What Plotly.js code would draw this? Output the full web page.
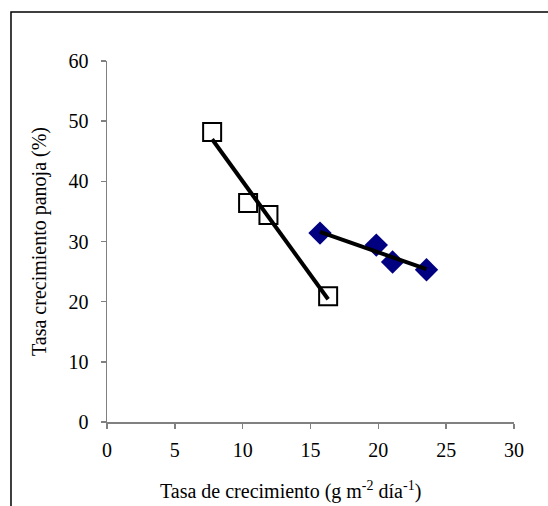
<!DOCTYPE html>
<html>
<head>
<meta charset="utf-8">
<script src="https://cdn.plot.ly/plotly-3.0.1.min.js"></script>
<style>html,body{margin:0;padding:0;background:#fff;}#chart{width:548px;height:506px;}</style>
</head>
<body>
<div id="chart"></div>
<script>
// Open squares series
const squareX = [7.75, 10.4, 11.9, 16.3];
const squareY = [48.2, 36.4, 34.4, 20.9];
// Filled diamonds series
const diamondX = [15.7, 19.85, 21.05, 23.55];
const diamondY = [31.4, 29.4, 26.6, 25.3];
// Trend lines (end points)
const squareFitX = [7.75, 16.3];
const squareFitY = [47.0, 20.4];
const diamondFitX = [15.7, 23.55];
const diamondFitY = [31.6, 25.4];
// Axis ticks
const xTicks = [0, 5, 10, 15, 20, 25, 30];
const yTicks = [0, 10, 20, 30, 40, 50, 60];

const traces = [
  {x: squareX, y: squareY, mode: 'markers', type: 'scatter',
   marker: {symbol: 'square-open', size: 18, color: '#000', line: {width: 2, color: '#000'}}},
  {x: diamondX, y: diamondY, mode: 'markers', type: 'scatter',
   marker: {symbol: 'diamond', size: 18, color: '#000080', line: {width: 0}}},
  {x: squareFitX, y: squareFitY, mode: 'lines', type: 'scatter',
   line: {color: '#000', width: 4}},
  {x: diamondFitX, y: diamondFitY, mode: 'lines', type: 'scatter',
   line: {color: '#000', width: 4}}
];

const FAM = 'Liberation Serif, Times New Roman, serif';

const layout = {
  width: 548, height: 506,
  margin: {l: 107, r: 34, t: 61, b: 84},
  paper_bgcolor: '#fff', plot_bgcolor: '#fff',
  showlegend: false,
  font: {family: FAM, size: 20, color: '#000'},
  xaxis: {
    range: [0, 30], tickvals: xTicks, ticktext: xTicks.map(String),
    showgrid: false, zeroline: false, showline: true, linecolor: '#808080', linewidth: 1.5,
    ticks: 'outside', ticklen: 5, tickcolor: '#808080', tickwidth: 1.5,
    ticklabelstandoff: 4,
    tickfont: {family: FAM, size: 20, color: '#000'},
    title: {text: ''}
  },
  yaxis: {
    range: [0, 60], tickvals: yTicks, ticktext: yTicks.map(String),
    showgrid: false, zeroline: false, showline: true, linecolor: '#808080', linewidth: 1.5,
    ticks: 'outside', ticklen: 5, tickcolor: '#808080', tickwidth: 1.5,
    ticklabelstandoff: 8,
    tickfont: {family: FAM, size: 20, color: '#000'},
    title: {text: 'Tasa crecimiento panoja (%)', font: {family: FAM, size: 20, color: '#000'}, standoff: 16}
  },
  annotations: [
    {text: 'Tasa de crecimiento (g m<sup>-2</sup> día<sup>-1</sup>)', xref: 'paper', yref: 'paper',
     x: 0.45, y: -0.19, xanchor: 'center', yanchor: 'middle', showarrow: false,
     font: {family: FAM, size: 20, color: '#000'}}
  ],
  shapes: [
    {type: 'rect', xref: 'paper', yref: 'paper', x0: -0.2359, x1: 1.2, y0: -0.3, y1: 1.1357,
     line: {color: '#000', width: 1.5}, fillcolor: 'rgba(0,0,0,0)', layer: 'below'}
  ]
};

Plotly.newPlot('chart', traces, layout, {displayModeBar: false, staticPlot: true});
</script>
</body>
</html>
